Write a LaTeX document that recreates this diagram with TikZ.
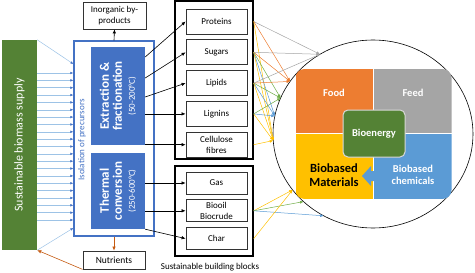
\documentclass[tikz,border=0pt]{standalone}
\usepackage{fontspec}
\setmainfont{Carlito}
\usepackage{xcolor}
\usetikzlibrary{arrows.meta, positioning, calc}

\definecolor{supplygreen}{HTML}{548235}
\definecolor{procblue}{HTML}{4472C4}
\definecolor{paleblue}{HTML}{9DC3E6}
\definecolor{foodorange}{HTML}{ED7D31}
\definecolor{feedgray}{HTML}{A5A5A5}
\definecolor{matyellow}{HTML}{FFC000}
\definecolor{chemblue}{HTML}{5B9BD5}
\definecolor{linkgreen}{HTML}{70AD47}
\definecolor{nutribrown}{HTML}{C55A11}

\begin{document}
\begin{tikzpicture}[
  x=1pt, y=-1pt,
  supplybox/.style={fill=supplygreen, minimum width=35pt, minimum height=210pt, inner sep=0pt},
  procbox/.style={fill=procblue, minimum width=54pt, inner sep=0pt},
  proctext/.style={rotate=90, text=white, align=center, font=\bfseries\fontsize{13}{13}\selectfont},
  blockframe/.style={draw, line width=1.4pt, minimum width=78pt, inner sep=0pt},
  block/.style={draw=black!80, line width=0.8pt, minimum width=61pt, align=center, inner sep=0pt, font=\fontsize{9}{11}\selectfont},
  note/.style={draw=black!80, line width=0.8pt, align=center, inner sep=0pt, font=\fontsize{9}{11}\selectfont},
  arrow/.style={-{Latex[length=4pt, width=3.5pt]}, line width=0.6pt},
  supplyarrow/.style={-{Latex[length=3pt, width=2.6pt, color=procblue]}, paleblue, line width=0.5pt},
  link/.style={-{Latex[length=3.5pt, width=3pt]}, line width=0.5pt},
  quad/.style={minimum width=78pt, inner sep=0pt},
  qtext/.style={text=white, align=center, font=\bfseries\fontsize{10.5}{12}\selectfont}
]
\useasboundingbox (0,0) rectangle (475,273);

% biomass supply and precursor isolation
\node[supplybox] (supply) at (19.5,145) {};
\node[rotate=90, text=white, font=\fontsize{12}{14}\selectfont] (supplytxt) at (supply) {Sustainable biomass supply};

\node[draw=procblue, line width=1.2pt, minimum width=80pt, minimum height=195pt, inner sep=0pt] (isol) at (114,138.5) {};
\node[rotate=90, text=procblue, font=\fontsize{9}{10}\selectfont] (isoltxt) at (82,140) {Isolation of precursors};
\node[procbox, minimum height=98pt] (extr) at (118,96) {};
\node[proctext] (extrtxt) at (extr) {Extraction \&\\fractionation\\{\mdseries\fontsize{9}{9}\selectfont (50-200°C)}};
\node[procbox, minimum height=76pt] (therm) at (118,191) {};
\node[proctext] (thermtxt) at (therm) {Thermal\\conversion\\{\mdseries\fontsize{9}{9}\selectfont (250-600°C)}};

\node[note, minimum width=63pt, minimum height=27pt] (byprod) at (114.5,15.5) {Inorganic by-\\products};
\node[note, minimum width=62pt, minimum height=18pt, font=\fontsize{9.5}{10}\selectfont] (nutri) at (114,260) {Nutrients};

\foreach \i [evaluate=\i as \yy using 73+7.35*\i] in {0,...,20}
  \draw[supplyarrow] (supply.east |- 0,\yy) -- (isol.west |- 0,\yy);
\draw[supplyarrow] (supply.north east) -- (isol.west |- 0,64);
\draw[supplyarrow] (supply.south east) -- (isol.west |- 0,228);

\draw[arrow] (isol.north) -- (byprod.south);
\draw[arrow, nutribrown] (isol.south) -- (nutri.north);
\draw[arrow, nutribrown] (nutri.south west) -- (supply.south east);

% building blocks
\node[blockframe, minimum height=158pt] (group1) at (214,80) {};
\node[block, minimum height=25pt] (prot) at (216.5,21.5) {Proteins};
\node[block, minimum height=25pt, below=5pt of prot] (sug) {Sugars};
\node[block, minimum height=25pt, below=5pt of sug] (lip) {Lipids};
\node[block, minimum height=25pt, below=5pt of lip] (lig) {Lignins};
\node[block, minimum height=25pt, below=5pt of lig] (cell) {Cellulose\\fibres};

\node[blockframe, minimum height=90pt] (group2) at (214,211) {};
\node[block, minimum height=22pt] (gas) at (216.5,183) {Gas};
\node[block, minimum height=22pt, below=5pt of gas] (oil) {Biooil\\Biocrude};
\node[block, minimum height=22pt, below=5pt of oil] (char) {Char};
\node[font=\fontsize{9}{10}\selectfont] (bblabel) at (210,267) {Sustainable building blocks};

\draw[arrow] (extr.east |- 0,57) -- (prot.west);
\draw[arrow] (extr.east |- 0,78) -- (sug.west);
\draw[arrow] (extr.east |- 0,97) -- (lip.west);
\draw[arrow] (extr.east |- lig.west) -- (lig.west);
\draw[arrow] (extr.east |- cell.west) -- (cell.west);
\draw[arrow] (therm.east |- gas.west) -- (gas.west);
\draw[arrow] (therm.east |- oil.west) -- (oil.west);
\draw[arrow] (therm.south east) -- (char.west);

% products circle
\coordinate (hub) at (373,134);
\draw[line width=0.6pt] (hub) ellipse [x radius=100pt, y radius=94pt];
\coordinate (tfeed) at ($(hub)+(238:100 and 94)$);
\coordinate (tfood) at ($(hub)+(214:100 and 94)$);
\coordinate (tener) at ($(hub)+(202.5:100 and 94)$);
\coordinate (tchem) at ($(hub)+(191:100 and 94)$);
\coordinate (tmat) at ($(hub)+(176:100 and 94)$);
\coordinate (tmatb) at ($(hub)+(143.5:100 and 94)$);
\coordinate (tenerb) at ($(hub)+(134:100 and 94)$);
\coordinate (tchemb) at ($(hub)+(119.5:100 and 94)$);

\begin{scope}
  \clip[rounded corners=9pt] (295.5,69) rectangle (451.5,199);
  \node[quad, minimum height=64pt, fill=foodorange] (food) at (334.5,101) {};
  \node[quad, minimum height=64pt, fill=feedgray] (feed) at (412.5,101) {};
  \node[quad, minimum height=66pt, fill=matyellow] (mat) at (334.5,166) {};
  \node[quad, minimum height=66pt, fill=chemblue] (chem) at (412.5,166) {};
\end{scope}
\draw[white, line width=0.8pt] (food.north east) -- (mat.south east);
\draw[white, line width=0.8pt] (food.south west) -- (feed.south east);
\fill[chemblue] (362,176) -- (371,166) -- (371,171) -- (377,171) -- (377,181) -- (371,181) -- (371,186) -- cycle;

\node[qtext] (foodtxt) at (334,93) {Food};
\node[qtext] (feedtxt) at (413,93) {Feed};
\node[align=center, font=\bfseries\fontsize{12.5}{14}\selectfont] (mattxt) at (334,175) {Biobased\\Materials};
\node[qtext] (chemtxt) at (413,175) {Biobased\\chemicals};
\node[qtext, fill=supplygreen, draw=black!15, line width=1pt, rounded corners=5pt, minimum width=62pt, minimum height=47pt] (energy) at (374,133.5) {Bioenergy};

\foreach \src/\dst/\col in {prot/tfeed/feedgray, prot/tfood/foodorange, prot/tmat/matyellow,
    sug/tfeed/feedgray, sug/tfood/foodorange, sug/tener/linkgreen, sug/tchem/chemblue, sug/tmat/matyellow,
    lip/tfeed/feedgray, lip/tfood/foodorange, lip/tener/linkgreen, lip/tchem/chemblue, lip/tmat/matyellow,
    lig/tener/linkgreen, lig/tchem/chemblue, lig/tmat/matyellow, cell/tmat/matyellow}
  \draw[link, \col] (group1.east |- \src) -- (\dst);
\foreach \src/\dst/\col in {oil/tmatb/matyellow, oil/tenerb/linkgreen, oil/tchemb/chemblue, char/tmatb/matyellow}
  \draw[link, \col] (group2.east |- \src) -- (\dst);

\end{tikzpicture}
\end{document}
